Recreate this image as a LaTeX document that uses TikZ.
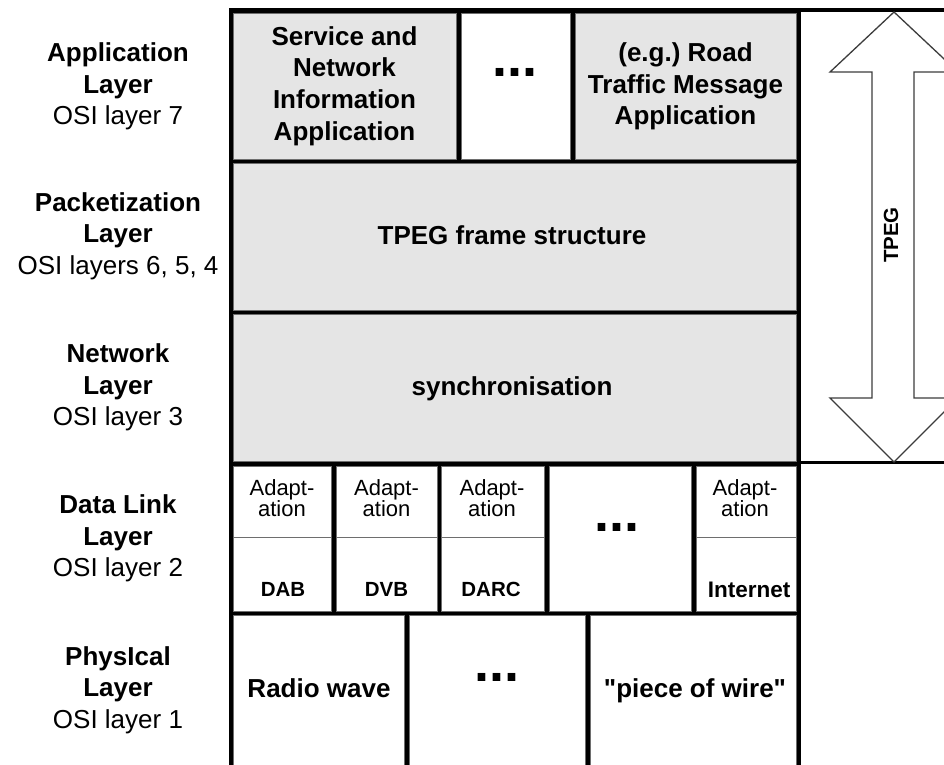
\documentclass[tikz,border=0pt]{standalone}
\usepackage{fontspec}
\setmainfont{Liberation Sans}[Ligatures=TeXOff]
\definecolor{cellgray}{RGB}{229,229,229}
\definecolor{edgegray}{RGB}{110,110,110}
\definecolor{arrowline}{RGB}{60,60,60}
\frenchspacing
\begin{document}
\begin{tikzpicture}[x=1pt,y=-1pt,
  gcell/.style={fill=cellgray,draw=edgegray,line width=1pt},
  wcell/.style={fill=white,draw=edgegray,line width=1pt},
  big/.style={font=\fontsize{26}{31.7}\selectfont\bfseries,align=center,inner sep=0pt},
  side/.style={font=\fontsize{26}{31.7}\selectfont,align=center,inner sep=0pt},
  small/.style={font=\fontsize{22}{21}\selectfont,align=center,inner sep=0pt},
  smallb/.style={font=\fontsize{20.5}{24}\selectfont\bfseries,inner sep=0pt},
  dots/.style={font=\fontsize{54}{54}\selectfont\bfseries,inner sep=0pt},
  splitline/.style={draw=edgegray,line width=1.2pt}]
\useasboundingbox (0,0) rectangle (944,764);
\clip (0,0) rectangle (944,764);
% black frame
\fill[black] (229,8) rectangle (801,800);
% right column
\draw[line width=3.5pt] (799,10) -- (944,10);
\draw[line width=2.5pt] (799,462.5) -- (944,462.5);
% application row
\draw[gcell] (233.5,13.5) rectangle (456,159);
\draw[wcell] (461,13.5) rectangle (570,159);
\draw[gcell] (575,13.5) rectangle (796.5,159);
% packetization
\draw[gcell] (233.5,163.5) rectangle (796.5,310);
% network
\draw[gcell] (233.5,314.5) rectangle (796.5,461);
% data link
\draw[wcell] (233.5,466) rectangle (331.5,611);
\draw[wcell] (336.5,466) rectangle (437.5,611);
\draw[wcell] (441.5,466) rectangle (544.5,611);
\draw[wcell] (549,466) rectangle (691.5,611);
\draw[wcell] (696,466) rectangle (796.5,611);
\draw[splitline] (233.5,537.5) -- (331.5,537.5);
\draw[splitline] (336.5,537.5) -- (437.5,537.5);
\draw[splitline] (441.5,537.5) -- (544.5,537.5);
\draw[splitline] (696,537.5) -- (796.5,537.5);
% physical
\draw[wcell] (233.5,615.5) rectangle (404.5,790);
\draw[wcell] (409.5,615.5) rectangle (585.5,790);
\draw[wcell] (590.5,615.5) rectangle (796.5,790);
% TPEG arrow
\draw[arrowline,line width=1.3pt,fill=white]
  (894,12) -- (958,72) -- (914,72) -- (914,398) -- (958,398) -- (894,462)
  -- (830,398) -- (872,398) -- (872,72) -- (830,72) -- cycle;
\node[smallb,rotate=90] (tpeg) at (891,235) {TPEG};
% cell texts
\node[big] (sni) at (344.5,86) {Service and\\Network\\Information\\Application};
\node[dots] (d1) at (515,72) {...};
\node[big] (rtm) at (685.5,86.5) {(e.g.) Road\\Traffic Message\\Application};
\node[big] (tfs) at (512,235) {TPEG frame structure};
\node[big] (syn) at (512,388.5) {synchronisation};
\node[small] (a1) at (282,498.5) {Adapt-\\ation};
\node[small] (a2) at (386.5,498.5) {Adapt-\\ation};
\node[small] (a3) at (492,498.5) {Adapt-\\ation};
\node[small] (a5) at (745,498.5) {Adapt-\\ation};
\node[smallb] (dab) at (283,589.5) {DAB};
\node[smallb] (dvb) at (386.5,589.5) {DVB};
\node[smallb] (darc) at (491,589.5) {DARC};
\node[dots] (d2) at (617,527) {...};
\node[smallb,font=\fontsize{22.5}{24}\selectfont\bfseries] (inet) at (749,589.5) {Internet};
\node[big] (radio) at (319,688) {Radio wave};
\node[dots] (d3) at (497,677) {...};
\node[big] (wire) at (695,690.5) {"piece of wire"};
% left labels
\node[side] (l7) at (118,86.5) {\textbf{Application}\\\textbf{Layer}\\OSI layer 7};
\node[side] (l64) at (118,236) {\textbf{Packetization}\\\textbf{Layer}\\OSI layers 6, 5, 4};
\node[side] (l3) at (118,387.5) {\textbf{Network}\\\textbf{Layer}\\OSI layer 3};
\node[side] (l2) at (118,538.5) {\textbf{Data Link}\\\textbf{Layer}\\OSI layer 2};
\node[side] (l1) at (118,690) {\textbf{PhysIcal}\\\textbf{Layer}\\OSI layer 1};
\end{tikzpicture}
\end{document}
